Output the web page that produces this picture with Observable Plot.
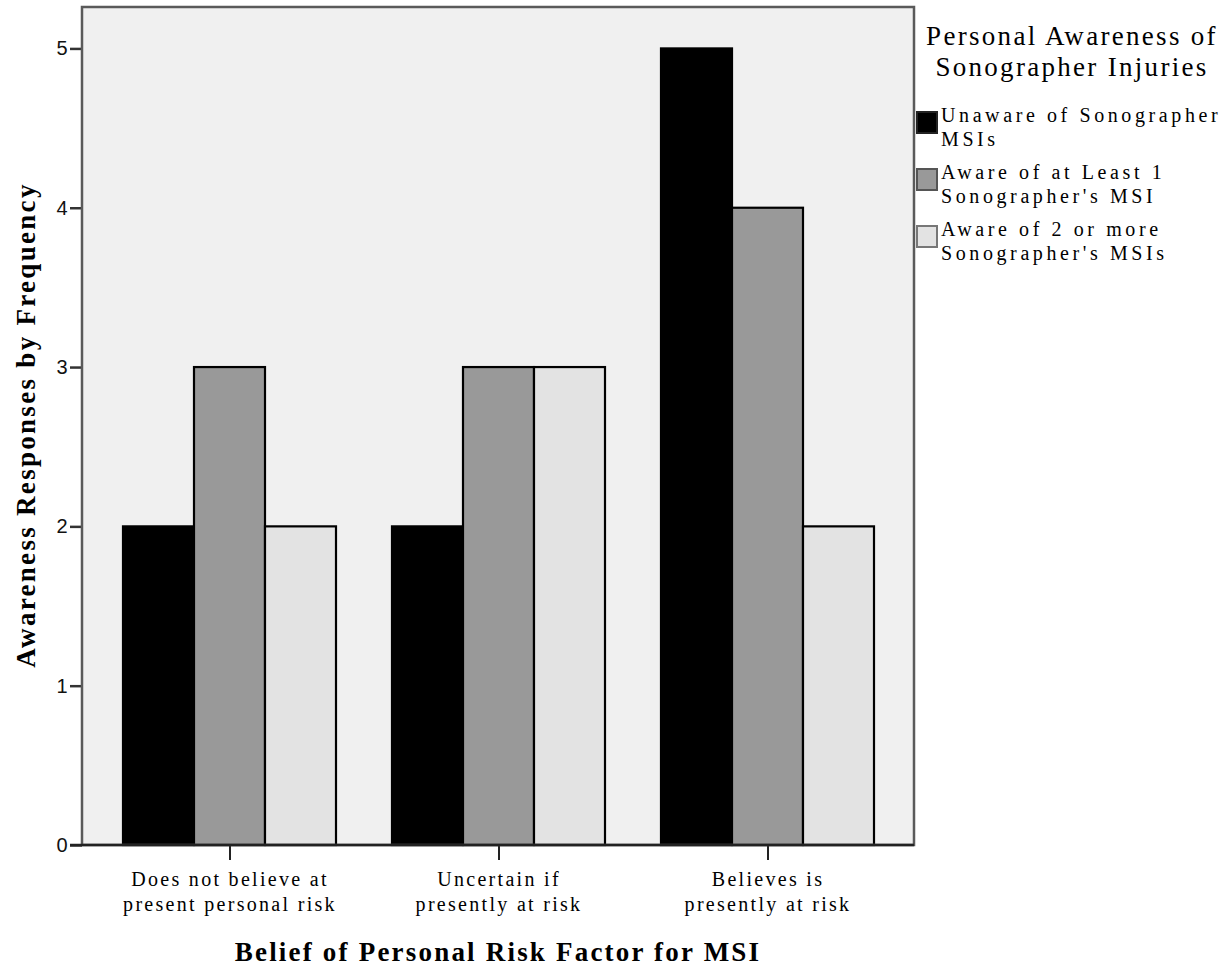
<!DOCTYPE html>
<html><head><meta charset="utf-8">
<script src="https://cdn.jsdelivr.net/npm/d3@7"></script>
<script src="https://cdn.jsdelivr.net/npm/@observablehq/plot@0.6"></script>
<style>
body{margin:0;background:#fff;}
#wrap{position:relative;width:1222px;height:968px;overflow:hidden;}
#chart{position:absolute;left:0;top:0;}
.ylab{position:absolute;left:26px;top:425px;transform:translate(-50%,-50%) rotate(-90deg);white-space:nowrap;font-family:"Liberation Serif",serif;font-weight:bold;font-size:27px;letter-spacing:2.3px;color:#000;}
.xlab{position:absolute;left:498px;top:952px;transform:translate(-50%,-50%);white-space:nowrap;font-family:"Liberation Serif",serif;font-weight:bold;font-size:27px;letter-spacing:2.2px;color:#000;}
#legend{position:absolute;left:914px;top:21px;width:308px;font-family:"Liberation Serif",serif;color:#000;}
#legend .lt{text-align:center;font-size:27px;line-height:31px;letter-spacing:2.3px;margin-bottom:20px;margin-left:8px;white-space:nowrap;}
#legend .row{position:relative;height:57px;}
#legend .sw{position:absolute;left:2px;top:8px;width:18px;height:19px;border:2px solid #555;}
#legend .tx{position:absolute;left:27px;top:0;font-size:20px;line-height:24px;letter-spacing:3.6px;white-space:nowrap;}
</style>
</head><body>
<div id="wrap"><div id="chart"></div></div>
<script>
const categories = ["Does not believe at\npresent personal risk", "Uncertain if\npresently at risk", "Believes is\npresently at risk"];
const series = ["Unaware of Sonographer MSIs", "Aware of at Least 1 Sonographer's MSI", "Aware of 2 or more Sonographer's MSIs"];
const legendLines = [["Unaware of Sonographer", "MSIs"], ["Aware of at Least 1", "Sonographer's MSI"], ["Aware of 2 or more", "Sonographer's MSIs"]];
const unaware = [2, 2, 5];
const awareOne = [3, 3, 4];
const awareTwo = [2, 3, 2];
const colors = ["#000000", "#999999", "#e3e3e3"];
const swatchBorders = ["#222222", "#555555", "#777777"];
const yTicks = [0, 1, 2, 3, 4, 5];
const legendTitle = ["Personal Awareness of", "Sonographer Injuries"];
const xTitle = "Belief of Personal Risk Factor for MSI";
const yTitle = "Awareness Responses by Frequency";

const valueSets = [unaware, awareOne, awareTwo];
const data = [];
categories.forEach((c, i) => series.forEach((s, j) => data.push({category: c, series: s, value: valueSets[j][i]})));

const W = 916, H = 968, ML = 82, MR = 2, MT = 7, MB = 123;
const plot = Plot.plot({
  width: W, height: H,
  marginLeft: ML, marginRight: MR, marginTop: MT, marginBottom: MB,
  style: {background: "transparent", fontFamily: "Liberation Serif, serif", fontSize: "19px", color: "#222", overflow: "visible"},
  facet: {data, x: "category"},
  fx: {domain: categories, paddingInner: 0.21, paddingOuter: 0.149, axis: "bottom", label: null, tickSize: 15, tickPadding: 11},
  x: {domain: series, padding: 0, axis: null},
  y: {domain: [0, 5.26], ticks: yTicks, tickFormat: d => String(d), tickSize: 12, tickPadding: 3, label: null},
  color: {domain: series, range: colors},
  marks: [
    Plot.barY(data, {x: "series", y: "value", fill: "series", stroke: "#000", strokeWidth: 2.2})
  ]
});
document.getElementById("chart").appendChild(plot);

// plot-area background and frame
const ns = "http://www.w3.org/2000/svg";
const bg = document.createElementNS(ns, "rect");
bg.setAttribute("x", ML); bg.setAttribute("y", MT);
bg.setAttribute("width", W - ML - MR); bg.setAttribute("height", H - MT - MB);
bg.setAttribute("fill", "#f0f0f0");
plot.insertBefore(bg, plot.firstChild);
const fr = document.createElementNS(ns, "rect");
fr.setAttribute("x", ML); fr.setAttribute("y", MT);
fr.setAttribute("width", W - ML - MR); fr.setAttribute("height", H - MT - MB);
fr.setAttribute("fill", "none"); fr.setAttribute("stroke", "#5a5a5a"); fr.setAttribute("stroke-width", 2.5);
plot.appendChild(fr);
const base = document.createElementNS(ns, "line");
base.setAttribute("x1", ML - 12); base.setAttribute("x2", W - MR);
base.setAttribute("y1", H - MB); base.setAttribute("y2", H - MB);
base.setAttribute("stroke", "#222"); base.setAttribute("stroke-width", 2.5);
plot.appendChild(base);

// move y axis (drawn at the first facet) to the plot's left edge
let off = 0;
try { off = plot.scale("fx").apply(categories[0]) - ML; } catch (e) {}
plot.querySelectorAll('g[aria-label^="y-axis"]').forEach(g => {
  g.setAttribute("transform", `translate(${-off},0) ` + (g.getAttribute("transform") || ""));
});
plot.querySelectorAll('g[aria-label^="y-axis"] text').forEach(t => {
  t.style.fontFamily = "Liberation Sans, sans-serif"; t.style.fontSize = "20px"; t.style.fill = "#111";
});
plot.querySelectorAll('g[aria-label^="y-axis"] path, g[aria-label^="y-axis"] line').forEach(t => {
  t.setAttribute("stroke", "#333"); t.setAttribute("stroke-width", 2.5);
});
plot.querySelectorAll('g[aria-label^="fx-axis"] text').forEach(t => {
  t.style.letterSpacing = "2.3px"; t.style.fontSize = "20px"; t.style.fill = "#000";
  const ts = t.querySelectorAll("tspan");
  ts.forEach((s, k) => { if (k > 0) s.setAttribute("dy", "1.25em"); });
});
plot.querySelectorAll('g[aria-label^="fx-axis"] path, g[aria-label^="fx-axis"] line').forEach(t => {
  t.setAttribute("stroke", "#222"); t.setAttribute("stroke-width", 2);
});

const wrap = document.getElementById("wrap");
const yl = document.createElement("div"); yl.className = "ylab"; yl.textContent = yTitle; wrap.appendChild(yl);
const xl = document.createElement("div"); xl.className = "xlab"; xl.textContent = xTitle; wrap.appendChild(xl);

const lg = document.createElement("div"); lg.id = "legend";
const lt = document.createElement("div"); lt.className = "lt"; lt.innerHTML = legendTitle.join("<br>"); lg.appendChild(lt);
series.forEach((s, i) => {
  const row = document.createElement("div"); row.className = "row";
  const sw = document.createElement("div"); sw.className = "sw"; sw.style.background = colors[i]; sw.style.borderColor = swatchBorders[i];
  const tx = document.createElement("div"); tx.className = "tx"; tx.innerHTML = legendLines[i].join("<br>");
  row.appendChild(sw); row.appendChild(tx); lg.appendChild(row);
});
wrap.appendChild(lg);
</script>
</body></html>
